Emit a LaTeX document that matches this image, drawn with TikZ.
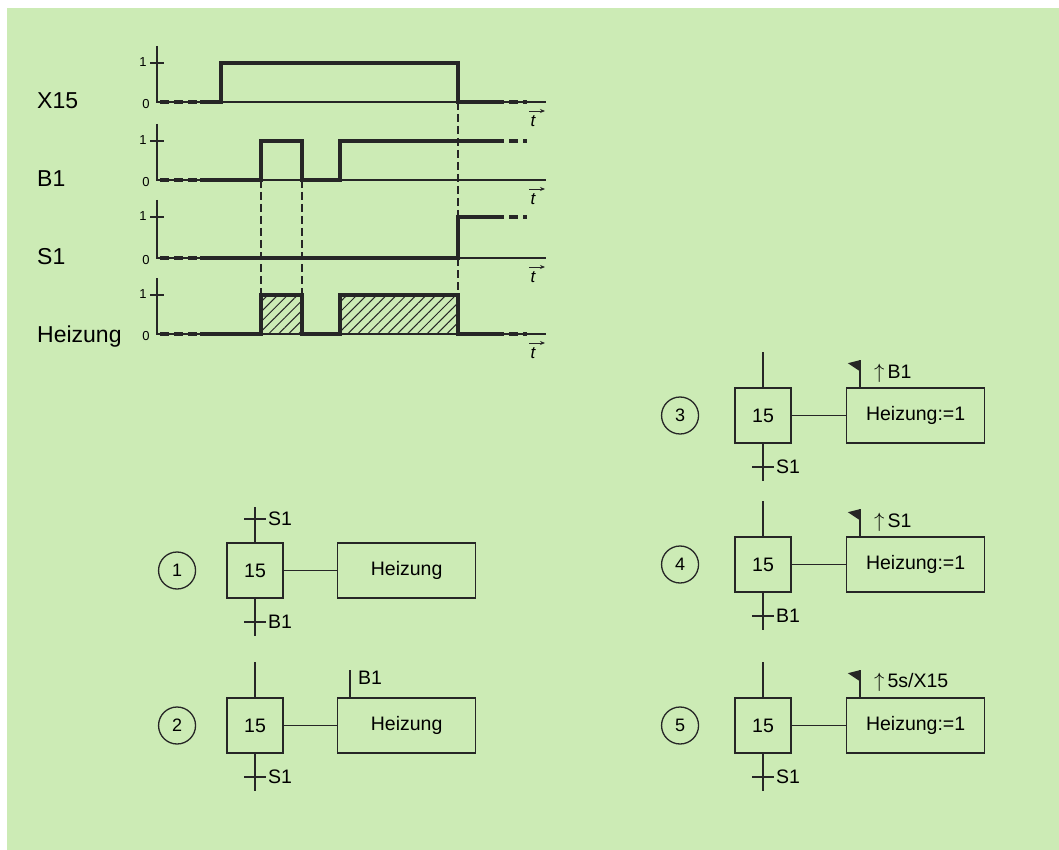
\documentclass[tikz,border=0pt]{standalone}
\usepackage{fontspec}
\setmainfont{Liberation Sans}
\usetikzlibrary{arrows.meta, positioning, patterns.meta}
\definecolor{Paper}{RGB}{204, 235, 181}
\definecolor{Ink}{RGB}{38, 38, 38}

\begin{document}
\begin{tikzpicture}[
        x=1pt, y=-1pt,
        font=\fontsize{19.5}{22}\selectfont,
        sig/.style={draw=Ink, line width=3.2pt},
        sigend/.style={sig, dash pattern=on 9pt off 5pt},
        axis/.style={draw=Ink, line width=1.5pt},
        guide/.style={draw=Ink, line width=1.4pt, dash pattern=on 8pt off 4pt},
        hatch/.style={pattern={Lines[angle=45, distance=7pt, line width=1pt]}, pattern color=Ink},
        signame/.style={anchor=base west, inner sep=0pt, font=\fontsize{23}{26}\selectfont},
        val/.style={inner sep=0pt, font=\fontsize{13}{15}\selectfont},
        tlab/.style={inner sep=0pt, font=\fontsize{17}{19}\selectfont\itshape},
        tarrow/.style={draw=Ink, line width=0.9pt, -{Stealth[length=5pt, width=4pt]}},
        stepbox/.style={rectangle, draw=Ink, line width=1.6pt, minimum width=56pt, minimum height=55pt, inner sep=0pt},
        actbox/.style={rectangle, draw=Ink, line width=1.6pt, minimum width=138pt, minimum height=55pt, inner sep=0pt},
        num/.style={circle, draw=Ink, line width=1.3pt, minimum size=37pt, inner sep=0pt, font=\fontsize{18}{20}\selectfont},
        cond/.style={anchor=west, inner sep=0pt},
        link/.style={draw=Ink, line width=1.6pt}
    ]
        \useasboundingbox (0,0) rectangle (1059,850);
        \fill[white] (0,0) rectangle (1059,850);
        \fill[Paper] (7,8) rectangle (1059,850);

        % timing diagram
        \node [signame] (lx15) at (37,109) {X15};
        \node [signame] (lb1) at (37,187) {B1};
        \node [signame] (ls1) at (37,265) {S1};
        \node [signame] (lhz) at (37,342) {Heizung};

        \draw [axis] (157,46) -- (157,102) -- (546,102) (150,63) -- (164,63);
        \draw [axis] (157,124) -- (157,180) -- (546,180) (150,141) -- (164,141);
        \draw [axis] (157,200) -- (157,258) -- (546,258) (150,217) -- (164,217);
        \draw [axis] (157,278) -- (157,334) -- (546,334) (150,295) -- (164,295);
        \node [val] (v1a) at (143,62) {1};  \node [val] (v0a) at (146,104) {0};
        \node [val] (v1b) at (143,140) {1}; \node [val] (v0b) at (146,182) {0};
        \node [val] (v1c) at (143,216) {1}; \node [val] (v0c) at (146,260) {0};
        \node [val] (v1d) at (143,294) {1}; \node [val] (v0d) at (146,336) {0};
        \node [tlab] (ta) at (533,121) {t};
        \node [tlab] (tb) at (533,199) {t};
        \node [tlab] (tc) at (533,277) {t};
        \node [tlab] (td) at (533,353) {t};
        \draw [tarrow] ([shift={(-4,-10)}]ta.center) -- ++(16,0);
        \draw [tarrow] ([shift={(-4,-10)}]tb.center) -- ++(16,0);
        \draw [tarrow] ([shift={(-4,-10)}]tc.center) -- ++(16,0);
        \draw [tarrow] ([shift={(-4,-10)}]td.center) -- ++(16,0);

        \fill [hatch] (261,295) rectangle (302,334);
        \fill [hatch] (340,295) rectangle (458,334);
        \draw [guide] (261,180) -- (261,295);
        \draw [guide] (302,180) -- (302,295);
        \draw [guide] (458,102) -- (458,295);

        \draw [sigend] (160,102) -- (200,102);
        \draw [sig] (200,102) -- (221,102) -- (221,63) -- (458,63) -- (458,102) -- (495,102);
        \draw [sigend] (495,102) -- (527,102);
        \draw [sigend] (160,180) -- (200,180);
        \draw [sig] (200,180) -- (261,180) -- (261,141) -- (302,141) -- (302,180) -- (340,180) -- (340,141) -- (495,141);
        \draw [sigend] (495,141) -- (527,141);
        \draw [sigend] (160,258) -- (200,258);
        \draw [sig] (200,258) -- (458,258) -- (458,217) -- (495,217);
        \draw [sigend] (495,217) -- (527,217);
        \draw [sigend] (160,334) -- (200,334);
        \draw [sig] (200,334) -- (261,334) -- (261,295) -- (302,295) -- (302,334) -- (340,334) -- (340,295) -- (458,295) -- (458,334) -- (495,334);
        \draw [sigend] (495,334) -- (527,334);

        % variant 1
        \node [stepbox] (st1) at (255,570.5) {15};
        \node [actbox, right=53pt of st1] (ac1) {Heizung};
        \node [num, left=30pt of st1] (n1) {1};
        \coordinate [above=35pt of st1] (in1);
        \coordinate [above=23pt of st1] (tin1);
        \coordinate [below=37pt of st1] (out1);
        \coordinate [below=23pt of st1] (tout1);
        \node [cond, right=13pt of tin1] (cin1) {S1};
        \node [cond, right=13pt of tout1] (cout1) {B1};
        \path [link] (in1) -- (st1) (st1) -- (out1) (st1) -- (ac1);
        \path [link] (tin1) +(-11,0) -- +(11,0) (tout1) +(-11,0) -- +(11,0);

        % variant 2
        \node [stepbox] (st2) at (255,725.5) {15};
        \node [actbox, right=53pt of st2] (ac2) {Heizung};
        \node [num, left=30pt of st2] (n2) {2};
        \coordinate [above=35pt of st2] (in2);
        \coordinate [below=37pt of st2] (out2);
        \coordinate [below=23pt of st2] (tout2);
        \node [cond, right=13pt of tout2] (cout2) {S1};
        \coordinate (f2) at ([xshift=13pt]ac2.north west);
        \coordinate [above=27pt of f2] (ft2);
        \node [cond] (e2) at ([xshift=8pt, yshift=19pt]f2) {B1};
        \path [link] (in2) -- (st2) (st2) -- (out2) (st2) -- (ac2) (f2) -- (ft2);
        \path [link] (tout2) +(-11,0) -- +(11,0);

        % variant 3
        \node [stepbox] (st3) at (763,415.5) {15};
        \node [actbox, right=54pt of st3] (ac3) {Heizung:=1};
        \node [num, left=35pt of st3] (n3) {3};
        \coordinate [above=35pt of st3] (in3);
        \coordinate [below=37pt of st3] (out3);
        \coordinate [below=23pt of st3] (tout3);
        \node [cond, right=13pt of tout3] (cout3) {S1};
        \coordinate (f3) at ([xshift=14pt]ac3.north west);
        \coordinate [above=27pt of f3] (ft3);
        \node [cond] (e3) at ([xshift=14pt, yshift=14pt]f3) {$\uparrow$\,B1};
        \path [link] (in3) -- (st3) (st3) -- (out3) (st3) -- (ac3) (f3) -- (ft3);
        \path [link] (tout3) +(-11,0) -- +(11,0);
        \fill [Ink] (ft3) -- ++(-12,3) -- ++(12,8) -- cycle;

        % variant 4
        \node [stepbox] (st4) at (763,564.5) {15};
        \node [actbox, right=54pt of st4] (ac4) {Heizung:=1};
        \node [num, left=35pt of st4] (n4) {4};
        \coordinate [above=35pt of st4] (in4);
        \coordinate [below=37pt of st4] (out4);
        \coordinate [below=23pt of st4] (tout4);
        \node [cond, right=13pt of tout4] (cout4) {B1};
        \coordinate (f4) at ([xshift=14pt]ac4.north west);
        \coordinate [above=27pt of f4] (ft4);
        \node [cond] (e4) at ([xshift=14pt, yshift=14pt]f4) {$\uparrow$\,S1};
        \path [link] (in4) -- (st4) (st4) -- (out4) (st4) -- (ac4) (f4) -- (ft4);
        \path [link] (tout4) +(-11,0) -- +(11,0);
        \fill [Ink] (ft4) -- ++(-12,3) -- ++(12,8) -- cycle;

        % variant 5
        \node [stepbox] (st5) at (763,725.5) {15};
        \node [actbox, right=54pt of st5] (ac5) {Heizung:=1};
        \node [num, left=35pt of st5] (n5) {5};
        \coordinate [above=35pt of st5] (in5);
        \coordinate [below=37pt of st5] (out5);
        \coordinate [below=23pt of st5] (tout5);
        \node [cond, right=13pt of tout5] (cout5) {S1};
        \coordinate (f5) at ([xshift=14pt]ac5.north west);
        \coordinate [above=27pt of f5] (ft5);
        \node [cond] (e5) at ([xshift=14pt, yshift=15pt]f5) {$\uparrow$\,5s/X15};
        \path [link] (in5) -- (st5) (st5) -- (out5) (st5) -- (ac5) (f5) -- (ft5);
        \path [link] (tout5) +(-11,0) -- +(11,0);
        \fill [Ink] (ft5) -- ++(-12,3) -- ++(12,8) -- cycle;
    \end{tikzpicture}
\end{document}
